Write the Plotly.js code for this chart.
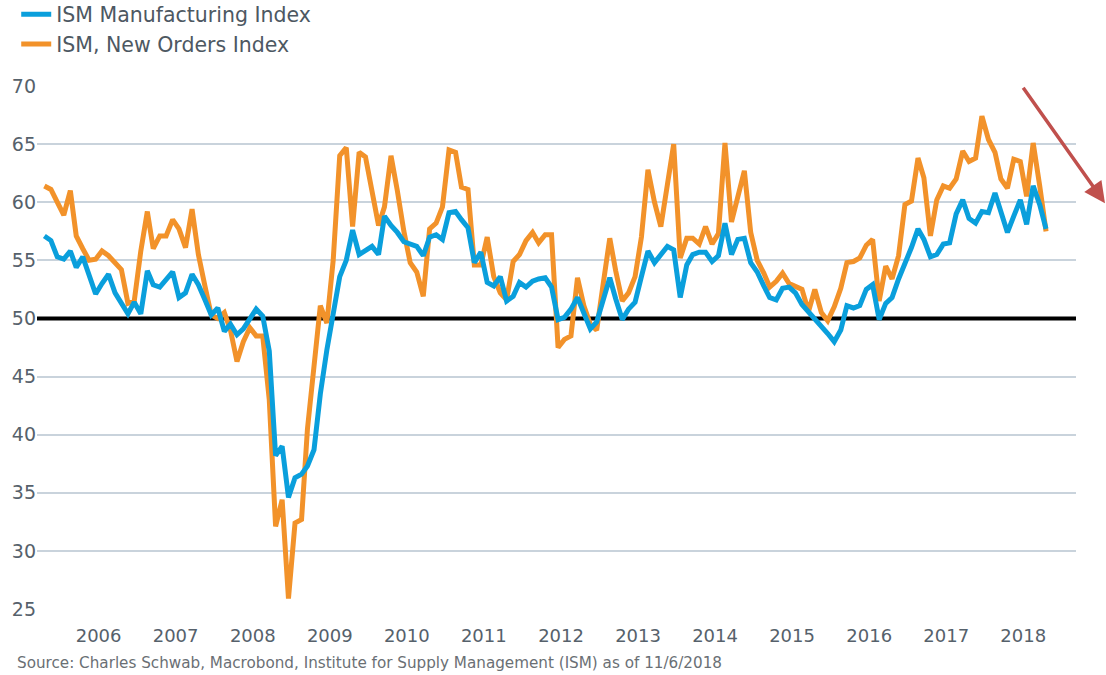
<!DOCTYPE html>
<html>
<head>
<meta charset="utf-8">
<script src="https://cdn.plot.ly/plotly-3.0.1.min.js"></script>
<style>
  html, body { margin: 0; padding: 0; background: #ffffff; }
  #chart { width: 1106px; height: 675px; }
</style>
</head>
<body>
<div id="chart"></div>
<script>
// Monthly series, October 2005 through October 2018
const startYear = 2005;
const startMonth = 10;

const ismManufacturing = [
  57.1, 56.7, 55.3, 55.1, 55.8, 54.4, 55.3, 53.6, 52.1, 53.0, 53.8, 52.2,
  51.4, 50.4, 51.4, 50.4, 54.1, 52.9, 52.7, 53.4, 54.0, 51.8, 52.2, 53.8,
  52.9, 51.6, 50.3, 50.9, 48.9, 49.5, 48.6, 49.1, 49.9, 50.8, 50.2, 47.2,
  38.2, 39.0, 34.6, 36.3, 36.6, 37.3, 38.7, 43.5, 47.3, 50.5, 53.6, 55.0,
  57.6, 55.5, 55.8, 56.2, 55.5, 58.8, 58.0, 57.4, 56.6, 56.4, 56.2, 55.4,
  57.0, 57.2, 56.8, 59.1, 59.2, 58.5, 57.8, 54.8, 55.7, 53.1, 52.8, 53.6,
  51.5, 51.9, 53.1, 52.7, 53.2, 53.4, 53.5, 52.7, 49.9, 50.1, 50.8, 51.8,
  50.6, 49.1, 49.7, 51.5, 53.5, 51.7, 49.9, 50.8, 51.4, 53.6, 55.8, 54.8,
  55.5, 56.2, 55.9, 51.8, 54.6, 55.5, 55.7, 55.7, 54.9, 55.4, 58.2, 55.5,
  56.8, 56.9, 54.8, 54.0, 52.8, 51.8, 51.6, 52.6, 52.7, 52.2, 51.2, 50.6,
  49.9, 49.3, 48.7, 48.0, 49.0, 51.1, 50.9, 51.1, 52.5, 52.9, 49.9, 51.3,
  51.8, 53.4, 54.6, 56.1, 57.7, 56.8, 55.3, 55.5, 56.4, 56.5, 59.0, 60.2,
  58.6, 58.2, 59.2, 59.1, 60.8, 59.3, 57.4, 58.8, 60.2, 58.1, 61.4, 59.8,
  57.7
];

const ismNewOrders = [
  61.4, 61.1, 60.0, 58.9, 61.0, 57.1, 56.0, 55.0, 55.1, 55.8, 55.4, 54.8,
  54.2, 51.3, 51.5, 55.8, 59.2, 56.0, 57.1, 57.1, 58.5, 57.7, 56.1, 59.4,
  55.5, 52.8, 50.3, 50.0, 50.5, 49.0, 46.3, 48.0, 49.2, 48.5, 48.5, 43.0,
  32.1, 34.4, 25.9, 32.4, 32.7, 40.5, 46.0, 51.1, 49.6, 55.0, 64.0, 64.7,
  57.9, 64.3, 63.9, 61.0, 58.0, 59.6, 64.0, 61.0, 57.5, 54.8, 54.0, 51.9,
  57.7, 58.2, 59.6, 64.5, 64.3, 61.3, 61.1, 54.6, 54.6, 57.0, 53.6, 52.2,
  51.6, 54.9, 55.5, 56.7, 57.4, 56.5, 57.2, 57.2, 47.5, 48.2, 48.5, 53.5,
  51.1, 49.5, 49.0, 53.0, 56.9, 54.1, 51.5, 52.2, 53.6, 57.0, 62.8, 60.0,
  57.9, 61.5, 65.0, 55.2, 56.9, 56.9, 56.4, 57.9, 56.4, 57.3, 65.1, 58.3,
  60.3, 62.7, 57.4, 55.0, 53.9, 52.7, 53.2, 53.9, 53.0, 52.8, 52.5, 50.6,
  52.5, 50.5, 49.8, 51.0, 52.6, 54.8, 54.9, 55.2, 56.3, 56.8, 51.5, 54.5,
  53.4, 55.4, 59.8, 60.1, 63.8, 62.1, 57.1, 60.2, 61.4, 61.2, 62.0, 64.4,
  63.5, 63.8, 67.4, 65.4, 64.3, 62.0, 61.2, 63.7, 63.5, 60.5, 65.1, 61.4,
  57.5
];

const yearLabels = ["2006","2007","2008","2009","2010","2011","2012","2013","2014","2015","2016","2017","2018"];
const yTicks = [25, 30, 35, 40, 45, 50, 55, 60, 65, 70];
const threshold = 50;

const seriesNames = ["ISM Manufacturing Index", "ISM, New Orders Index"];
const sourceText = "Source: Charles Schwab, Macrobond, Institute for Supply Management (ISM) as of 11/6/2018";

function pad(n) { return (n < 10 ? "0" : "") + n; }
const months = ismManufacturing.map(function (_, i) {
  const total = (startMonth - 1) + i;
  const y = startYear + Math.floor(total / 12);
  const m = (total % 12) + 1;
  return y + "-" + pad(m) + "-01";
});

const yearTickVals = yearLabels.map(function (y) { return y + "-06-15"; });
const xRange = ["2005-08-27", "2019-02-20"];

const BLUE = "#0a9fdc";
const ORANGE = "#f2922a";
const FONT = "DejaVu Sans, Liberation Sans, Arial, sans-serif";

const traces = [
  {
    x: xRange, y: [threshold, threshold], type: "scatter", mode: "lines",
    line: { color: "#000000", width: 4 }, showlegend: false, hoverinfo: "skip"
  },
  {
    x: months, y: ismNewOrders, name: seriesNames[1], type: "scatter", mode: "lines",
    line: { color: ORANGE, width: 5, shape: "linear" }, hoverinfo: "skip"
  },
  {
    x: months, y: ismManufacturing, name: seriesNames[0], type: "scatter", mode: "lines",
    line: { color: BLUE, width: 5, shape: "linear" }, hoverinfo: "skip"
  }
];

const layout = {
  width: 1106, height: 675,
  margin: { l: 37, r: 30, t: 86, b: 66, pad: 0, autoexpand: false },
  paper_bgcolor: "#ffffff", plot_bgcolor: "#ffffff",
  font: { family: FONT, color: "#56616b" },
  showlegend: true,
  legend: {
    x: -0.02, y: 1.175, xanchor: "left", yanchor: "top",
    orientation: "v", traceorder: "reversed",
    font: { family: FONT, size: 20.5, color: "#4d5862" },
    bgcolor: "rgba(0,0,0,0)", tracegroupgap: 0, itemwidth: 30
  },
  xaxis: {
    type: "date",
    range: xRange,
    tickmode: "array", tickvals: yearTickVals, ticktext: yearLabels,
    ticks: "outside", ticklen: 10, tickcolor: "rgba(0,0,0,0)",
    showgrid: false, zeroline: false, showline: false,
    tickfont: { family: FONT, size: 18, color: "#56616b" },
    fixedrange: true
  },
  yaxis: {
    range: [25, 70],
    tickmode: "array", tickvals: yTicks,
    ticks: "", showgrid: true, gridcolor: "#c9d3dc", gridwidth: 2,
    zeroline: false, showline: false,
    tickfont: { family: FONT, size: 19, color: "#56616b" },
    fixedrange: true
  },
  annotations: [
    {
      xref: "paper", yref: "paper", x: -0.021, y: -0.103,
      xanchor: "left", yanchor: "middle", showarrow: false,
      text: sourceText,
      font: { family: FONT, size: 15.2, color: "#6a6f74" }
    },
    {
      xref: "paper", yref: "paper", x: 1.029, y: 0.776,
      ax: -84, ay: -117, axref: "pixel", ayref: "pixel",
      showarrow: true, text: "", arrowhead: 2, arrowsize: 1.2,
      arrowwidth: 3.5, arrowcolor: "#c0504d", standoff: 0, startstandoff: 0
    }
  ]
};

Plotly.newPlot("chart", traces, layout, { staticPlot: true, displayModeBar: false });
</script>
</body>
</html>
